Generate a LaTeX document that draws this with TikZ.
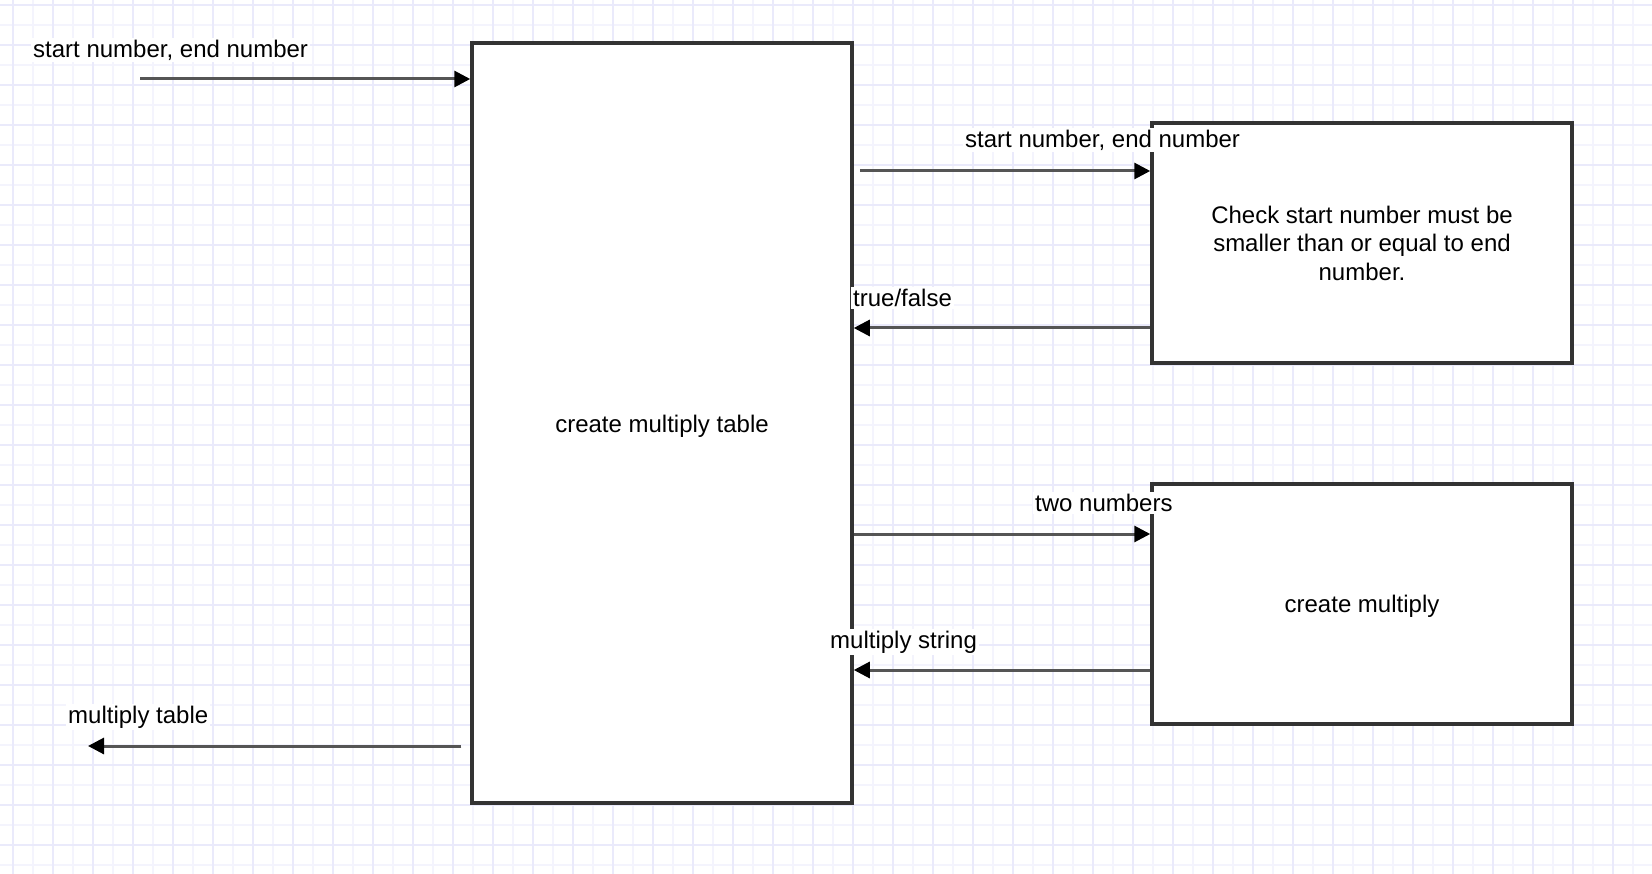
\documentclass[tikz,border=0pt]{standalone}
\usepackage{fontspec}
\setmainfont{Liberation Sans}
\usetikzlibrary{arrows.meta}
\definecolor{gridmajor}{HTML}{EAEAFB}
\definecolor{gridminor}{HTML}{F4F4FD}
\definecolor{boxline}{HTML}{333333}
\definecolor{connline}{HTML}{555555}
\tikzset{
  procbox/.style={draw=boxline, line width=3.5pt, fill=white, inner sep=0pt, align=center,
    font=\fontsize{24}{28.5}\selectfont},
  conn/.style={draw=connline, line width=3pt,
    -{Triangle[length=16pt,width=16pt,color=black]}},
  elabel/.style={fill=white, inner sep=2pt, font=\fontsize{24}{28}\selectfont}
}
\begin{document}
\begin{tikzpicture}[x=1pt,y=-1pt]
\useasboundingbox (0,0) rectangle (1652,874);
\fill[white] (0,0) rectangle (1652,874);
% grid
\foreach \x in {33,73,...,1652} \draw[gridminor, line width=2pt] (\x,0) -- (\x,874);
\foreach \y in {25,65,...,874} \draw[gridminor, line width=2pt] (0,\y) -- (1652,\y);
\foreach \x in {13,53,...,1652} \draw[gridmajor, line width=2pt] (\x,0) -- (\x,874);
\foreach \y in {5,45,...,874} \draw[gridmajor, line width=2pt] (0,\y) -- (1652,\y);

% boxes
\node[procbox, minimum width=380pt, minimum height=760pt] (main) at (662,423) {};
\node[font=\fontsize{24}{28.5}\selectfont] (maintext) at ([yshift=-3pt]main.center) {create multiply table};
\node[procbox, minimum width=420pt, minimum height=240pt] (check) at (1362,243)
  {Check start number must be\\smaller than or equal to end\\number.};
\node[procbox, minimum width=420pt, minimum height=240pt] (mult) at (1362,604) {};
\node[font=\fontsize{24}{28.5}\selectfont] (multtext) at ([yshift=-2pt]mult.center) {create multiply};

% y-levels of the connectors
\coordinate (in) at (140,79);
\coordinate (out) at (88,746);
\coordinate (y2) at (0,171);
\coordinate (y3) at (0,328);
\coordinate (y4) at (0,534);
\coordinate (y5) at (0,670);
\coordinate (y6) at (0,746);

% connectors
\draw[conn] (in) -- (main.west |- in);
\draw[conn] ([xshift=6pt]main.east |- y2) -- (check.west |- y2);
\draw[conn] (check.west |- y3) -- (main.east |- y3);
\draw[conn] (main.east |- y4) -- (mult.west |- y4);
\draw[conn] (mult.west |- y5) -- (main.east |- y5);
\draw[conn] ([xshift=-9pt]main.west |- y6) -- (out);

% labels
\node[elabel, anchor=west] (l1) at (31,50) {start number, end number};
\node[elabel, anchor=west] (l2) at (963,140) {start number, end number};
\node[elabel, anchor=west] (l3) at (851,298) {true/false};
\node[elabel, anchor=west] (l4) at (1033,503) {two numbers};
\node[elabel, anchor=west] (l5) at (828,642) {multiply string};
\node[elabel, anchor=west] (l6) at (66,717) {multiply table};
\end{tikzpicture}
\end{document}
